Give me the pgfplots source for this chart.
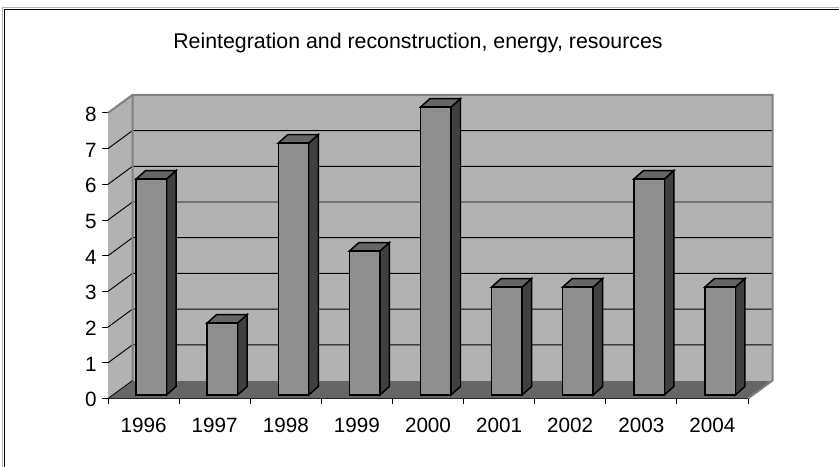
\documentclass[border=0pt]{standalone}
\usepackage{pgfplots}
\pgfplotsset{compat=1.18}
\usepackage{fontspec}
\setmainfont{Liberation Sans}
\definecolor{wallgray}{HTML}{B2B2B2}
\definecolor{edgegray}{HTML}{808080}
\definecolor{floorgray}{HTML}{666666}
\definecolor{barfront}{HTML}{8F8F8F}
\definecolor{bartop}{HTML}{666666}
\definecolor{barside}{HTML}{404040}
% depth of the box: 24.5px and 18px in data units
\newcommand{\dx}{0.3446}
\newcommand{\dy}{0.504}
% one grid line, side wall then back wall
\newcommand{\gridline}[1]{\addplot[black,line width=0.7pt,forget plot] coordinates {(0,#1) (\dx,#1+\dy) (9+\dx,#1+\dy)};}
% one 3D column: #1 = category start, #2 = value
\newcommand{\column}[2]{%
  \addplot[fill=barside,draw=black,line width=1.1pt,line join=miter,forget plot] coordinates {(#1+0.823,0.098) (#1+0.957,0.336) (#1+0.957,0.336+#2*1.008) (#1+0.823,0.098+#2*1.008)} -- cycle;
  \addplot[fill=bartop,draw=black,line width=1.1pt,forget plot] coordinates {(#1+0.394,0.098+#2*1.008) (#1+0.528,0.336+#2*1.008) (#1+0.957,0.336+#2*1.008) (#1+0.823,0.098+#2*1.008)} -- cycle;
  \addplot[fill=barfront,draw=black,line width=1.1pt,forget plot] coordinates {(#1+0.394,0.098) (#1+0.394,0.098+#2*1.008) (#1+0.823,0.098+#2*1.008) (#1+0.823,0.098)} -- cycle;
}
\begin{document}
\begin{tikzpicture}
% page = 839x467 px at 0.75pt per px, axis origin at px (108,398.5)
\begin{scope}[x=0.75pt,y=-0.75pt,shift={(-81pt,298.875pt)}]
  \path[use as bounding box] (0,0) rectangle (839,467);
  \draw[black!30,line width=0.75pt] (3,467) -- (3,8) -- (839,8);
  \draw[black,line width=0.9pt] (4.5,467) -- (4.5,9.5) -- (839,9.5);
  \node[font=\fontsize{16}{19}\selectfont,inner sep=0pt] at (418,43) {Reintegration and reconstruction, energy, resources};
\end{scope}
\begin{axis}[
  scale only axis,
  width=480pt,
  height=214.2pt,
  xmin=0,xmax=9,
  ymin=0,ymax=8,
  clip=false,
  axis lines=left,
  axis line style={-,black,line width=0.6pt},
  xtick={0,...,9},
  x tick label as interval,
  xticklabels={1996,1997,1998,1999,2000,2001,2002,2003,2004},
  ytick={0,...,8},
  tick style={black,line width=0.6pt},
  tickwidth=4.5pt,
  tick align=outside,
  xticklabel style={font=\fontsize{15.5}{18}\selectfont,yshift=-6.5pt},
  yticklabel style={font=\fontsize{15.5}{18}\selectfont,xshift=-0.5pt,yshift=-1pt},
  /pgf/number format/assume math mode=true,
]
% floor, side wall, back wall
\addplot[fill=floorgray,draw=none,forget plot] coordinates {(0,0) (\dx,\dy) (9+\dx,\dy) (9,0)} -- cycle;
\addplot[fill=wallgray,draw=none,forget plot] coordinates {(0,0) (\dx,\dy) (\dx,8+\dy) (0,8)} -- cycle;
\addplot[fill=wallgray,draw=none,forget plot] coordinates {(\dx,\dy) (\dx,8+\dy) (9+\dx,8+\dy) (9+\dx,\dy)} -- cycle;
\gridline{1}\gridline{2}\gridline{3}\gridline{4}\gridline{5}\gridline{6}\gridline{7}
\addplot[edgegray,line width=1.5pt,forget plot] coordinates {(0,8) (\dx,8+\dy)};
\addplot[edgegray,line width=1.5pt,forget plot] coordinates {(\dx,\dy) (\dx,8+\dy) (9+\dx,8+\dy) (9+\dx,\dy) (9,0)};
\addplot[black,line width=0.6pt,forget plot] coordinates {(0,0) (\dx,\dy)};
% columns
\column{0}{6}
\column{1}{2}
\column{2}{7}
\column{3}{4}
\column{4}{8}
\column{5}{3}
\column{6}{3}
\column{7}{6}
\column{8}{3}
\end{axis}
\end{tikzpicture}
\end{document}
